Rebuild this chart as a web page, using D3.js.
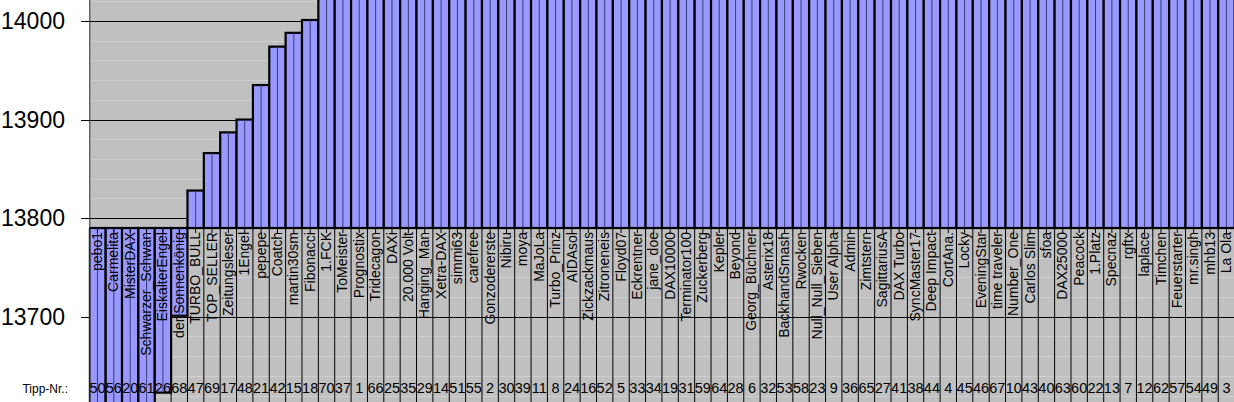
<!DOCTYPE html>
<html>
<head>
<meta charset="utf-8">
<script src="https://cdn.jsdelivr.net/npm/d3@7"></script>
<style>
html, body { margin: 0; padding: 0; background: #fff; overflow: hidden; }
svg { display: block; font-family: "Liberation Sans", Arial, sans-serif; }
</style>
</head>
<body>
<svg id="chart" width="1234" height="402"></svg>
<script>
/* DAX Tipp-Spiel - Tipps sortiert */
const names = [
  'pebo1', 'Carmelita', 'MisterDAX', 'Schwarzer_Schwan', 'EiskalterEngel', 'der Sonnenkönig',
  'TURBO_BULL', 'TOP_SELLER', 'Zeitungsleser', '1Engel', 'pepepe', 'Coatch', 'martin30sm',
  'Fibonacci', '1.FCK', 'ToMeister', 'Prognostix', 'Tridecagon', 'DAXi', '20.000 Volt',
  'Hanging_Man', 'Xetra-DAX', 'simmi63', 'carefree', 'Gonzodererste', 'Nibiru', 'moya',
  'MaJoLa', 'Turbo_Prinz', 'AIDAsol', 'Zickzackmaus', 'Zitroneneis', 'Floyd07', 'Eckrentner',
  'jane_doe', 'DAX10000', 'Terminator100', 'Zuckerberg', 'Kepler', 'Beyond', 'Georg_Büchner',
  'Asterix18', 'BackhandSmash', 'Rwocken', 'Null_Null_Sieben', 'User Alpha', 'Admin',
  'Zimtstern', 'SagittariusA', 'DAX Turbo', 'SyncMaster17', 'Deep Impact', 'CortAna.',
  'Locky', 'EveningStar', 'time traveler', 'Number_One', 'Carlos Slim', 'sfoa', 'DAX25000',
  'Peacock', '1.Platz', 'Specnaz', 'rgftx', 'laplace', 'Timchen', 'Feuerstarter', 'mr.singh',
  'mhb13', 'La Ola'
];
const tippNr = [
  50, 56, 20, 61, 26, 68, 47, 69, 17, 48, 21, 42, 15, 18, 70, 37, 1, 66, 25, 35,
  29, 14, 51, 55, 2, 30, 39, 11, 8, 24, 16, 52, 5, 33, 34, 19, 31, 59, 64, 28,
  6, 32, 53, 58, 23, 9, 36, 65, 27, 41, 38, 44, 4, 45, 46, 67, 10, 43, 40, 63,
  60, 22, 13, 7, 12, 62, 57, 54, 49, 3
];
const tipps = [
  13400, 13500, 13550, 13600, 13623, 13701, 13828, 13866, 13887, 13900,
  13935, 13974, 13988, 14001, 14025, 14030, 14040, 14050, 14050, 14060,
  14070, 14075, 14080, 14090, 14100, 14100, 14110, 14120, 14125, 14130,
  14140, 14150, 14150, 14160, 14170, 14175, 14180, 14190, 14200, 14200,
  14210, 14220, 14225, 14230, 14240, 14250, 14250, 14260, 14270, 14280,
  14290, 14300, 14300, 14310, 14320, 14330, 14340, 14350, 14360, 14375,
  14380, 14400, 14400, 14420, 14440, 14450, 14470, 14500, 14500, 14550
];
const majorTicks = [13700, 13800, 13900, 14000];
const minorTicks = [13620, 13640, 13660, 13680, 13720, 13740, 13760, 13780, 13820, 13840,
  13860, 13880, 13920, 13940, 13960, 13980, 14020];
const axisCross = 13790;

const W = 1234, H = 402;
const left = 89.3, right = 1234.6;

const svg = d3.select('#chart');
const x = d3.scaleBand().domain(d3.range(names.length)).range([left, right]).padding(0);
const y = d3.scaleLinear().domain([13613.5, 14021.3]).range([H, 0]);
const bw = x.bandwidth();
const y0 = y(axisCross);

svg.append('defs').append('clipPath').attr('id', 'plot')
  .append('rect').attr('x', left).attr('y', 0).attr('width', right - left).attr('height', H);

// plot background
svg.append('rect').attr('x', left).attr('y', 0).attr('width', W - left).attr('height', H)
  .attr('fill', '#c0c0c0');

// gridlines
svg.append('g').selectAll('line').data(minorTicks).enter().append('line')
  .attr('x1', left).attr('x2', W)
  .attr('y1', d => Math.round(y(d)) + 0.5).attr('y2', d => Math.round(y(d)) + 0.5)
  .style('stroke', '#cfcfcf').style('stroke-width', 1);
svg.append('g').selectAll('line').data(majorTicks).enter().append('line')
  .attr('x1', 81).attr('x2', W)
  .attr('y1', d => Math.round(y(d)) + 0.5).attr('y2', d => Math.round(y(d)) + 0.5)
  .style('stroke', '#000').style('stroke-width', 1);

// bars, hanging from the axis crossing
const bars = svg.append('g').attr('clip-path', 'url(#plot)');
bars.selectAll('rect').data(tipps).enter().append('rect')
  .attr('x', (d, i) => x(i))
  .attr('y', d => Math.min(y(d), y0))
  .attr('width', bw)
  .attr('height', d => Math.abs(y(d) - y0))
  .style('fill', '#9999ff')
  .style('stroke', '#000')
  .style('stroke-width', 2.2);
bars.selectAll('line').data(tipps).enter().append('line')
  .attr('x1', (d, i) => x(i) + bw / 2).attr('x2', (d, i) => x(i) + bw / 2)
  .attr('y1', d => Math.min(y(d), y0)).attr('y2', d => Math.max(y(d), y0))
  .style('stroke', '#3c3c78').style('stroke-width', 1);

// category dividers below the axis
svg.append('g').selectAll('line').data(d3.range(names.length + 1)).enter().append('line')
  .attr('x1', i => left + i * bw).attr('x2', i => left + i * bw)
  .attr('y1', y0).attr('y2', H)
  .style('stroke', '#000').style('stroke-width', 1);

// category ticks
svg.append('g').selectAll('line').data(names).enter().append('line')
  .attr('x1', (d, i) => x(i) + bw / 2).attr('x2', (d, i) => x(i) + bw / 2)
  .attr('y1', y0).attr('y2', y0 + 5)
  .style('stroke', '#000').style('stroke-width', 1);

// axes lines
svg.append('line').attr('x1', left).attr('x2', W).attr('y1', y0).attr('y2', y0)
  .style('stroke', '#000').style('stroke-width', 1.2);
svg.append('line').attr('x1', left + 0.5).attr('x2', left + 0.5).attr('y1', 0).attr('y2', H)
  .style('stroke', '#333').style('stroke-width', 1);

// y labels
svg.append('g').selectAll('text').data(majorTicks).enter().append('text')
  .attr('x', 65).attr('y', d => y(d)).attr('dy', '0.35em')
  .attr('text-anchor', 'end').style('font-size', '23px').style('fill', '#000')
  .text(d => d);

// names, rotated
svg.append('g').selectAll('text').data(names).enter().append('text')
  .attr('transform', (d, i) => `translate(${x(i) + bw / 2 - 0.5},${y0 + 4}) rotate(-90)`)
  .attr('dy', '0.36em').attr('text-anchor', 'end')
  .style('font-size', '14px').style('fill', '#000')
  .text(d => d);

// Tipp numbers
svg.append('text').attr('x', 68).attr('y', 393).attr('text-anchor', 'end')
  .style('font-size', '12px').style('fill', '#000').text('Tipp-Nr.:');
svg.append('g').selectAll('text').data(tippNr).enter().append('text')
  .attr('x', (d, i) => x(i) + bw / 2).attr('y', 393)
  .attr('text-anchor', 'middle').style('font-size', '14.5px').style('fill', '#000')
  .text(d => d);
</script>
</body>
</html>
